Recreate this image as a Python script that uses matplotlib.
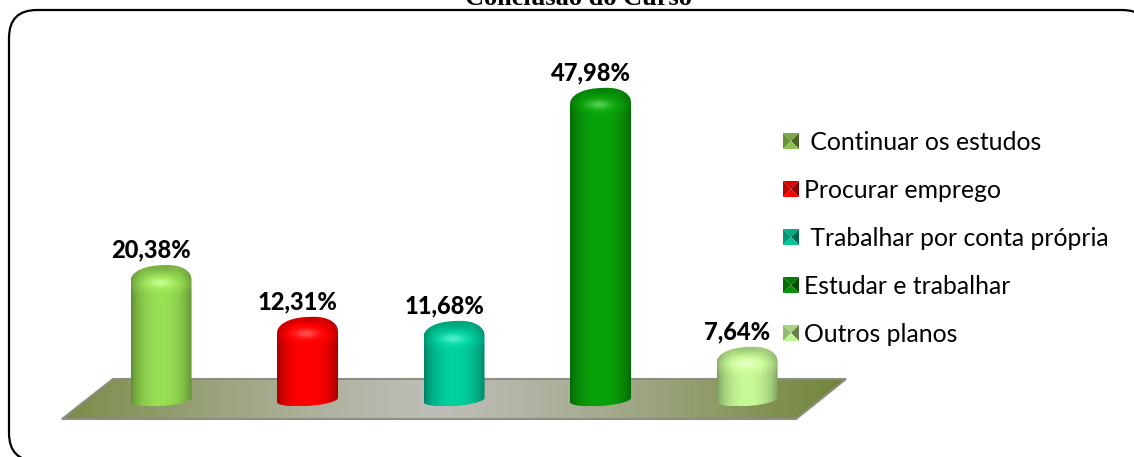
import numpy as np
import matplotlib
matplotlib.use('Agg')
import matplotlib.pyplot as plt
from matplotlib.patches import FancyBboxPatch, PathPatch, Polygon
from matplotlib.path import Path
from matplotlib.colors import to_rgb

title = 'Conclusão do Curso'
categories = [' Continuar os estudos', 'Procurar emprego', ' Trabalhar por conta própria',
              'Estudar e trabalhar', 'Outros planos']
values = [20.38, 12.31, 11.68, 47.98, 7.64]
value_labels = ['20,38%', '12,31%', '11,68%', '47,98%', '7,64%']
colors = ['#96dc52', '#ff0000', '#00cc9c', '#08a008', '#c4f694']
legend_colors = ['#86b84c', '#f00000', '#00bc94', '#048a04', '#b8e88c']

W, H = 1134, 457
# pixels on the picture: bar spacing and height of one percent
X0, DX = 161.0, 146.5
Y0, DY = 396.0, 6.42
HALF = 30.5 / DX  # half bar width, in category units


def px(v):
    return v / DY


def barPath(i, v):
    u = np.linspace(-1, 1, 121)
    x = i + u * HALF
    # rounded shoulders, the left one sits a little lower
    shoulder = 14 * (1 - np.sqrt(1 - np.abs(u) ** 2.6))
    top = v - px(shoulder - 1.5 * u * (1 - u ** 2) + 2.0 * (u < 0) * u ** 2)
    bottom = -px(4 - 2 * u + 6 * np.sqrt(1 - u ** 2))
    xs = np.r_[x, x[::-1], x[0]]
    ys = np.r_[top, bottom[::-1], top[0]]
    return Path(np.column_stack([xs, ys]))


def barShade(color, v):
    # horizontal cylinder shading + darker cap with a small highlight
    base = np.array(to_rgb(color))
    n = int(v * DY + 12) + 1
    u, t = np.meshgrid(np.linspace(-1, 1, 122), np.arange(n) - 2.0)
    light = 0.62 + 0.40 * (1 - u ** 2) ** 0.7
    cap = 1 - 0.22 * np.exp(-((t - 1) / 7.0) ** 2) * np.exp(-(u / 0.7) ** 2)
    glow = 0.34 * np.exp(-((t - 17) / 4.5) ** 2 - ((u + 0.05) / 0.38) ** 2)
    rim = 0.08 * np.exp(-((t - 18) / 7.0) ** 2)
    img = base[None, None, :] * (light * cap + rim)[..., None]
    img = img + glow[..., None] * (1 - base[None, None, :]) * 0.9
    return np.clip(img, 0, 1)


fig = plt.figure(figsize=(W / 100, H / 100), dpi=100)

bg = fig.add_axes([0, 0, 1, 1])
bg.set_xlim(0, W)
bg.set_ylim(H, 0)
bg.axis('off')

# frame, runs off the right and bottom of the picture
bg.add_patch(FancyBboxPatch((9 + 28, 10 + 28), 1150 - 9 - 56, 461 - 10 - 56,
                            boxstyle='round,pad=28,rounding_size=28',
                            fc='white', ec='black', lw=1.6, clip_on=True))

bg.text(578.5, 5, title, ha='center', va='baseline', fontsize=19, fontweight='bold',
        family='Liberation Serif', color='black')

# floor
floor = Polygon([(113, 379), (846, 379), (796, 419), (62, 419)], closed=True,
                fc='none', ec='#8c8e84', lw=1.5, zorder=2)
bg.add_patch(floor)
grad = np.linspace(-1, 1, 400)
side = np.abs(grad + 0.05) ** 1.25
c1, c2 = np.array(to_rgb('#bdbdb7')), np.array(to_rgb('#76883f'))
floorImg = (c1[None, :] * (1 - side[:, None]) + c2[None, :] * side[:, None])[None, ...]
im = bg.imshow(np.clip(floorImg, 0, 1), extent=(62, 846, 419, 379), aspect='auto', zorder=1)
im.set_clip_path(floor)
bg.set_xlim(0, W)
bg.set_ylim(H, 0)

# legend
legendY = [141, 189, 237, 285, 333]
for name, color, y in zip(categories, legend_colors, legendY):
    c = np.array(to_rgb(color))
    l, r, t, b = 783, 799, y - 8, y + 8
    cx, cy = (l + r) / 2, (t + b) / 2
    facets = [([(l, t), (r, t), (cx, cy)], 0.92), ([(l, t), (l, b), (cx, cy)], 0.80),
              ([(r, t), (r, b), (cx, cy)], 0.55), ([(l, b), (r, b), (cx, cy)], 1.05)]
    for pts, k in facets:
        bg.add_patch(Polygon(pts, closed=True, fc=np.clip(c * k, 0, 1), ec='none', zorder=3))
    bg.text(804, y + 1, name, ha='left', va='center', fontsize=17.8, family='Lato',
            color='black', zorder=3)

# bars
ax = fig.add_axes([0, 0, 1, 1])
ax.patch.set_alpha(0)
ax.axis('off')

for i, (v, color, lab) in enumerate(zip(values, colors, value_labels)):
    patch = PathPatch(barPath(i, v), fc='none', ec='none')
    ax.add_patch(patch)
    im = ax.imshow(barShade(color, v), extent=(i - HALF, i + HALF, -px(10), v + px(2)),
                   origin='upper', aspect='auto', interpolation='bilinear', zorder=2)
    im.set_clip_path(patch)
    ax.annotate(lab, xy=(i, v), xytext=(-10 * 0.72, 15 * 0.72), textcoords='offset points',
                ha='center', va='center', fontsize=17, fontweight='black', family='Lato',
                color='black', zorder=4)

ax.set_xlim(-X0 / DX, (W - X0) / DX)
ax.set_ylim((Y0 - H) / DY, Y0 / DY)

fig.savefig('out.png', dpi=100)
